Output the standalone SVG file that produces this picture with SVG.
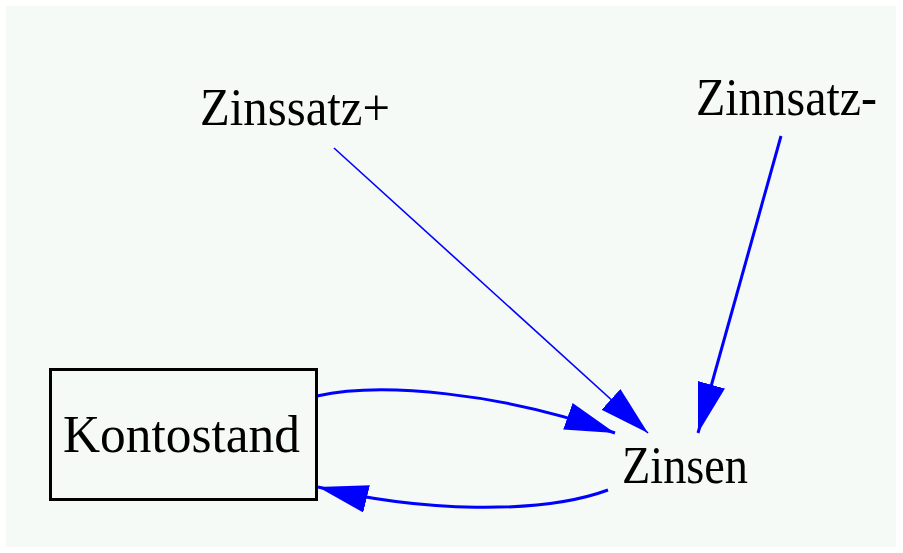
<svg xmlns="http://www.w3.org/2000/svg" width="903" height="553" viewBox="0 0 903 553">
  <style>
    .lbl { font-family: "Liberation Serif", "Times New Roman", serif; font-size: 52px; fill: #000; }
    .edge { fill: none; stroke: #0000ff; stroke-width: 3; }
    .thin { stroke-width: 1.6; }
    .box { fill: #f5faf7; stroke: #000; stroke-width: 3; }
  </style>
  <defs>
    <marker id="arr" markerUnits="userSpaceOnUse" markerWidth="52" markerHeight="30" refX="50" refY="14" orient="auto">
      <path d="M0,0 L50,14 L0,28 z" fill="#0000ff"/>
    </marker>
  </defs>
  <rect x="0" y="0" width="903" height="553" fill="#ffffff"/>
  <rect x="6" y="6" width="890" height="541" fill="#f5faf7"/>

  <g id="connectors">
    <path class="edge thin" d="M334,148 L648,433" marker-end="url(#arr)"/>
    <path class="edge" d="M781,136 L698,433" marker-end="url(#arr)"/>
    <path class="edge" d="M317,396 C380,382 500,392 615,433" marker-end="url(#arr)"/>
    <path class="edge" d="M608,490 C540,515 420,512 318,487" marker-end="url(#arr)"/>
  </g>

  <g id="node-kontostand">
    <rect class="box" x="50.5" y="369.5" width="266" height="130"/>
    <text class="lbl" x="63" y="452" textLength="237" lengthAdjust="spacingAndGlyphs">Kontostand</text>
  </g>
  <g id="node-zinsen">
    <text class="lbl" x="622" y="483" textLength="126" lengthAdjust="spacingAndGlyphs">Zinsen</text>
  </g>
  <g id="node-zinssatz-plus">
    <text class="lbl" x="200" y="125" textLength="190" lengthAdjust="spacingAndGlyphs">Zinssatz+</text>
  </g>
  <g id="node-zinnsatz-minus">
    <text class="lbl" x="696" y="115" textLength="181" lengthAdjust="spacingAndGlyphs">Zinnsatz-</text>
  </g>
</svg>
